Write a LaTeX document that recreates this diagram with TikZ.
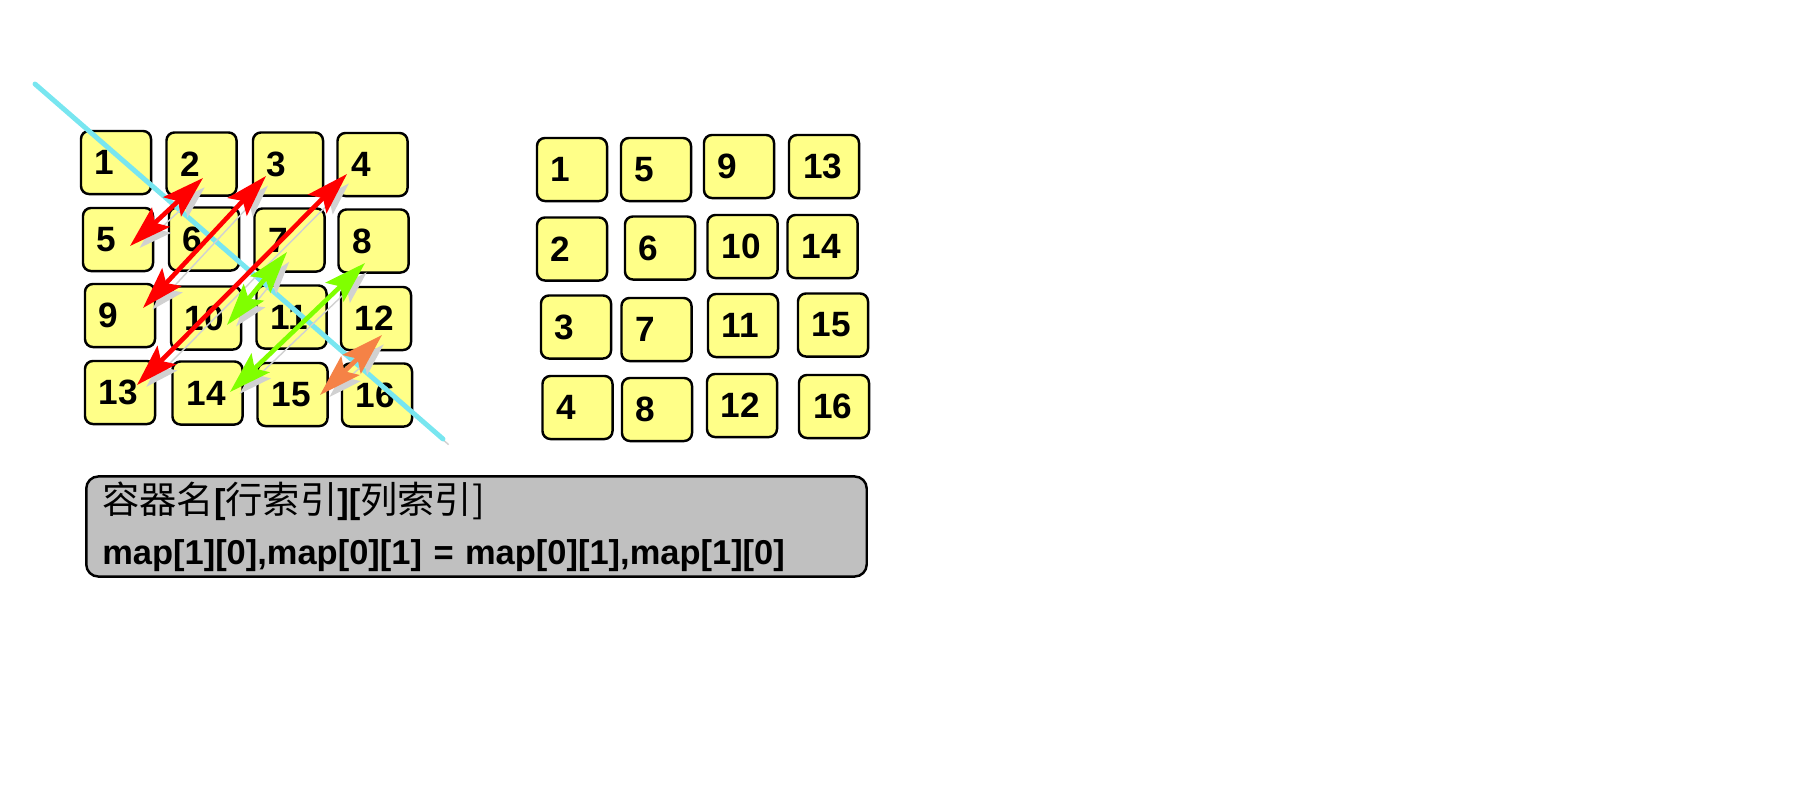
\documentclass[tikz,border=0pt]{standalone}
\usepackage{fontspec}
\setmainfont{Liberation Sans}
\newfontfamily\cjk{Noto Sans CJK SC}
\usetikzlibrary{arrows.meta}
\definecolor{cellyellow}{RGB}{255,255,136}
\definecolor{diagcyan}{RGB}{120,230,240}
\definecolor{swapred}{RGB}{255,0,0}
\definecolor{swapgreen}{RGB}{128,255,0}
\definecolor{swaporange}{RGB}{245,130,70}
\definecolor{notegray}{RGB}{192,192,192}

\begin{document}
\begin{tikzpicture}[x=0.01cm,y=-0.01cm,
    cell/.style={draw,line width=0.7pt,rounded corners=0.08cm,fill=cellyellow,
        minimum width=0.70cm,minimum height=0.63cm,inner xsep=0.14cm,inner ysep=0pt,
        text width=0.42cm,align=left,font=\bfseries},
    shadowed/.style={preaction={draw=black!18,transform canvas={shift={(1.6pt,-1.6pt)}}}},
    swap/.style={shadowed,line width=1.3pt,>={Stealth[length=4.2mm,width=2.6mm,inset=0.8mm]},<->},
    note/.style={draw,line width=0.7pt,rounded corners=0.12cm,fill=notegray,
        minimum width=7.80cm,minimum height=1.0cm,inner xsep=0.16cm,inner ysep=0.04cm,
        text width=7.48cm,align=left,font=\fontsize{9.8}{14.5}\selectfont}]
    \useasboundingbox (0,0) rectangle (1800,800);

    \begin{scope}
        \node[cell] (L1) at (116,162.5) {1};
        \node[cell] (L2) at (201.5,164) {2};
        \node[cell] (L3) at (288,164) {3};
        \node[cell] (L4) at (372.5,164.5) {4};

        \node[cell] (L5) at (118,239.5) {5};
        \node[cell] (L6) at (204,239) {6};
        \node[cell] (L7) at (289.5,240) {7};
        \node[cell] (L8) at (373.5,241) {8};

        \node[cell] (L9) at (120,315.5) {9};
        \node[cell] (L10) at (206,318) {10};
        \node[cell] (L11) at (291.5,317) {11};
        \node[cell] (L12) at (376,318.5) {12};

        \node[cell] (L13) at (120,392.5) {13};
        \node[cell] (L14) at (207.5,393) {14};
        \node[cell] (L15) at (292.5,394.5) {15};
        \node[cell] (L16) at (377,395) {16};

        % main diagonal
        \coordinate (DA) at (35,84);
        \coordinate (DB) at (443,439);
        \draw[shadowed,line width=1.4pt,line cap=round,diagcyan] (DA) -- (DB);

        \draw[swap,swapred] ([shift={(1.5,14)}]L2.center) to ([shift={(12,6.5)}]L5.center);
        \draw[swap,swapred] ([shift={(-22,12)}]L3.center) to ([shift={(23,-7.5)}]L9.center);
        \draw[swap,swapred] ([shift={(-25.5,9.5)}]L4.center) to ([shift={(17,-7.5)}]L13.center);
        \draw[swap,swapgreen] ([shift={(-2.5,12)}]L7.center) to ([shift={(21,7)}]L10.center);
        \draw[swap,swapgreen] ([shift={(-8.5,22)}]L8.center) to ([shift={(22.5,-1)}]L14.center);
        \draw[swap,swaporange] ([shift={(6,16.5)}]L12.center) to ([shift={(27.5,0.5)}]L15.center);
    \end{scope}

    \begin{scope}
        \node[cell] (R1) at (572,169.5) {1};
        \node[cell] (R5) at (656,169.5) {5};
        \node[cell] (R9) at (739,166.5) {9};
        \node[cell] (R13) at (824,166.5) {13};

        \node[cell] (R2) at (572,249) {2};
        \node[cell] (R6) at (660,248) {6};
        \node[cell] (R10) at (742.5,246.5) {10};
        \node[cell] (R14) at (822.5,246.5) {14};

        \node[cell] (R3) at (576,327) {3};
        \node[cell] (R7) at (656.5,329.5) {7};
        \node[cell] (R11) at (743,325.5) {11};
        \node[cell] (R15) at (833,325) {15};

        \node[cell] (R4) at (577.5,407.5) {4};
        \node[cell] (R8) at (657,409.5) {8};
        \node[cell] (R12) at (742,405.5) {12};
        \node[cell] (R16) at (834,406.5) {16};
    \end{scope}

    \node[note] (TXT) at (476.5,526.5)
        {{\cjk\fontsize{10.6}{14.5}\selectfont 容器名}\textbf{[}{\cjk\fontsize{10.6}{14.5}\selectfont 行索引}\textbf{][}{\cjk\fontsize{10.6}{14.5}\selectfont 列索引]}\\
         \textbf{map[1][0],map[0][1] = map[0][1],map[1][0]}};
\end{tikzpicture}
\end{document}
